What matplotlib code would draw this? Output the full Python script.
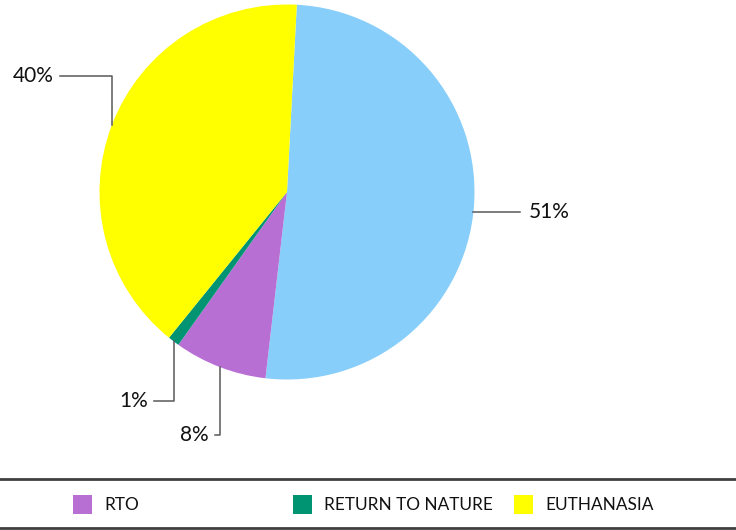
import numpy as np
import matplotlib.pyplot as plt
from matplotlib.patches import Rectangle
from matplotlib.lines import Line2D

plt.rcParams['font.family'] = ['Lato', 'DejaVu Sans']

# slices, clockwise from the top
slice_names = ['', 'RTO', 'RETURN TO NATURE', 'EUTHANASIA']
slice_values = [51, 8, 1, 40]
slice_colors = ['#87CEFA', '#B86FD4', '#009473', '#FFFF00']

# legend entries (the first slice has no legend entry)
legend_names = ['RTO', 'RETURN TO NATURE', 'EUTHANASIA']
legend_colors = ['#B86FD4', '#009473', '#FFFF00']

W, H = 736, 530
fig = plt.figure(figsize=(W / 100, H / 100), dpi=100)

cx, cy, r = 287, 192, 187.5
ax = fig.add_axes([(cx - r) / W, (H - cy - r) / H, 2 * r / W, 2 * r / H])
wedges, _ = ax.pie(slice_values, colors=slice_colors, startangle=87,
                   counterclock=False, radius=1,
                   wedgeprops=dict(linewidth=0))
ax.set_xlim(-1, 1)
ax.set_ylim(-1, 1)
ax.set_aspect('equal')
ax.axis('off')

# leader line routing per slice: start angle shift (deg), then legs (dx, dy) in px
routes = [
    (-1.2, [(47, 0)]),
    (0, [(0, -68), (-5, 0)]),
    (0, [(0, -60), (-20, 0)]),
    (0, [(0, 49), (-52, 0)]),
]
total = sum(slice_values)
px = 1 / r
for w, v, (shift, legs) in zip(wedges, slice_values, routes):
    mid = np.deg2rad((w.theta1 + w.theta2) / 2 + shift)
    x0, y0 = np.cos(mid), np.sin(mid)
    xs, ys = [x0], [y0]
    for dx, dy in legs:
        xs.append(xs[-1] + dx * px)
        ys.append(ys[-1] + dy * px)
    ax.plot(xs, ys, color='#595959', lw=1.1, clip_on=False)
    lbl = f'{round(100 * v / total)}%'
    if xs[-1] > xs[-2]:
        ax.text(xs[-1] + 8 * px, ys[-1], lbl, ha='left', va='center',
                fontsize=15, color='#111111')
    else:
        ax.text(xs[-1] - 6 * px, ys[-1], lbl, ha='right', va='center',
                fontsize=15, color='#111111')

# legend box lines
for yy, lw in [(479, 2), (528, 2)]:
    fig.add_artist(Line2D([0, 1], [1 - yy / H, 1 - yy / H], color='#404040',
                          lw=lw, transform=fig.transFigure))

sw_x = [73, 293, 514]
for name, col, x in zip(legend_names, legend_colors, sw_x):
    fig.add_artist(Rectangle((x / W, 1 - 514 / H), 19 / W, 19 / H,
                             facecolor=col, edgecolor='none',
                             transform=fig.transFigure))
    fig.text((x + 31) / W, 1 - 504.5 / H, name, ha='left', va='center',
             fontsize=12.4, color='#111111')

fig.savefig('out.png', dpi=100)
